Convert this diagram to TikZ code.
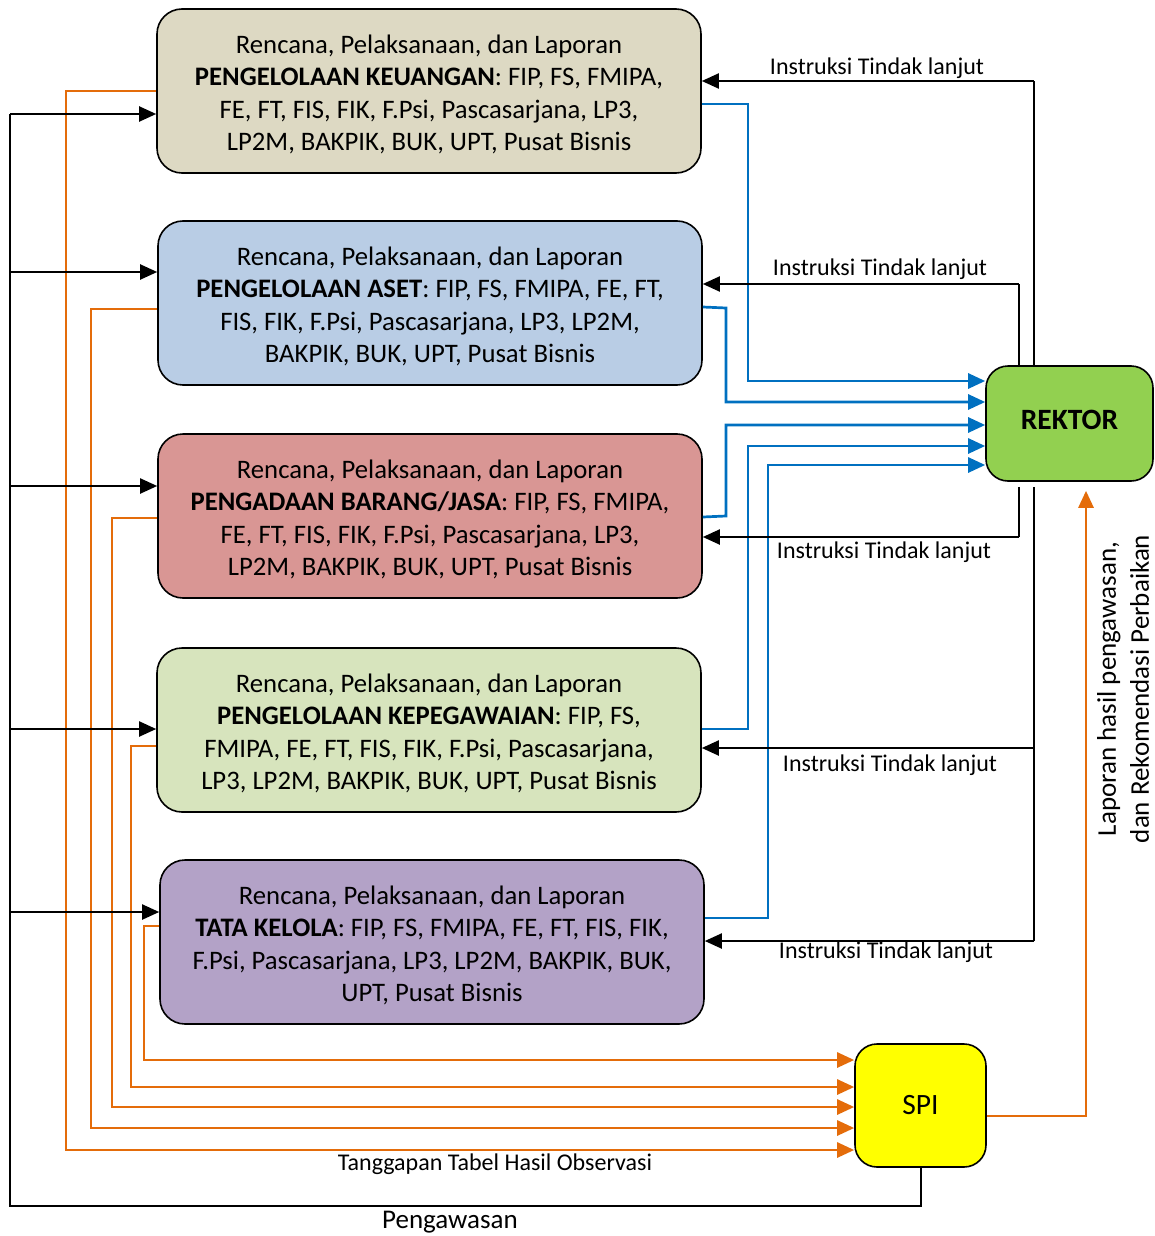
\documentclass[tikz,border=0pt]{standalone}
\usepackage{fontspec}
\setmainfont{Carlito}
\usetikzlibrary{arrows.meta}
\definecolor{ckeu}{HTML}{DDD9C3}
\definecolor{caset}{HTML}{B9CDE5}
\definecolor{cpeng}{HTML}{D99694}
\definecolor{cpeg}{HTML}{D7E4BD}
\definecolor{ctata}{HTML}{B3A2C7}
\definecolor{crek}{HTML}{92D050}
\definecolor{cspi}{HTML}{FFFF00}
\definecolor{corg}{HTML}{E46C0A}
\definecolor{cblu}{HTML}{0070C0}
\newcommand{\toppad}{\rule{0pt}{25.5pt}}
\begin{document}
\begin{tikzpicture}[x=1pt,y=-1pt,
  box/.style={draw=black, line width=1.6pt, rounded corners=25pt, minimum width=544pt, minimum height=164pt, inner sep=0pt, align=center, font=\fontsize{26.7}{32.5}\selectfont},
  tip/.style={-{Triangle[length=17pt,width=15pt]}},
  blk/.style={draw=black, line width=2pt},
  blkar/.style={blk, tip},
  thinl/.style={draw=black, line width=1.2pt},
  orl/.style={draw=corg, line width=2.7pt, tip},
  bll/.style={draw=cblu, line width=2.7pt, tip},
  lbl/.style={font=\fontsize{24}{28}\selectfont, inner sep=0pt}
]
\useasboundingbox (0,0) rectangle (1155,1236);

\node[box, fill=ckeu] (k) at (429,91) {\toppad Rencana, Pelaksanaan, dan Laporan\\\textbf{PENGELOLAAN KEUANGAN}: FIP, FS, FMIPA,\\FE, FT, FIS, FIK, F.Psi, Pascasarjana, LP3,\\LP2M, BAKPIK, BUK, UPT, Pusat Bisnis};
\node[box, fill=caset] (a) at (430,303) {\toppad Rencana, Pelaksanaan, dan Laporan\\\textbf{PENGELOLAAN ASET}: FIP, FS, FMIPA, FE, FT,\\FIS, FIK, F.Psi, Pascasarjana, LP3, LP2M,\\BAKPIK, BUK, UPT, Pusat Bisnis};
\node[box, fill=cpeng] (p) at (430,516) {\toppad Rencana, Pelaksanaan, dan Laporan\\\textbf{PENGADAAN BARANG/JASA}: FIP, FS, FMIPA,\\FE, FT, FIS, FIK, F.Psi, Pascasarjana, LP3,\\LP2M, BAKPIK, BUK, UPT, Pusat Bisnis};
\node[box, fill=cpeg] (g) at (429,730) {\toppad Rencana, Pelaksanaan, dan Laporan\\\textbf{PENGELOLAAN KEPEGAWAIAN}: FIP, FS,\\FMIPA, FE, FT, FIS, FIK, F.Psi, Pascasarjana,\\LP3, LP2M, BAKPIK, BUK, UPT, Pusat Bisnis};
\node[box, fill=ctata] (t) at (432,942) {\toppad Rencana, Pelaksanaan, dan Laporan\\\textbf{TATA KELOLA}: FIP, FS, FMIPA, FE, FT, FIS, FIK,\\F.Psi, Pascasarjana, LP3, LP2M, BAKPIK, BUK,\\UPT, Pusat Bisnis};

\node[draw=black, line width=1.6pt, rounded corners=22pt, fill=crek, minimum width=167pt, minimum height=115pt, inner sep=0pt, font=\fontsize{29.5}{32}\selectfont\bfseries] (r) at (1069.5,423.5) {\raisebox{7pt}{REKTOR}};
\node[draw=black, line width=1.6pt, rounded corners=22pt, fill=cspi, minimum width=131pt, minimum height=123pt, inner sep=0pt, font=\fontsize{29.5}{32}\selectfont] (s) at (920.5,1105.5) {SPI};

% blue: boxes -> rektor
\draw[bll] (k.east |- 0,104) -| (748,381) -- (r.west |- 0,381);
\draw[bll] (a.east |- 0,307) -- (726,308) -- (726,402) -- (r.west |- 0,402);
\draw[bll] (p.east |- 0,517) -- (726,516) -- (726,425) -- (r.west |- 0,425);
\draw[bll] (g.east |- 0,729) -| (748,446) -- (r.west |- 0,446);
\draw[bll] (t.east |- 0,918) -| (768,465) -- (r.west |- 0,465);

% black: rektor -> boxes (instruksi)
\draw[thinl] (r.north -| 1034,0) -- (1034,81);
\draw[blkar] (1034,81) -- (k.east |- 0,81);
\draw[thinl] (r.north -| 1019,0) -- (1019,284);
\draw[blkar] (1019,284) -- (a.east |- 0,284);
\draw[thinl] ([yshift=-5pt]r.south -| 1019,0) -- (1019,537);
\draw[blkar] (1019,537) -- (p.east |- 0,537);
\draw[thinl] ([yshift=-5pt]r.south -| 1034,0) -- (1034,941);
\draw[blkar] (1034,748) -- (g.east |- 0,748);
\draw[blkar] (1034,941) -- (t.east |- 0,941);

\node[lbl] (i1) at (877,68) {Instruksi Tindak lanjut};
\node[lbl] (i2) at (880,269) {Instruksi Tindak lanjut};
\node[lbl] (i3) at (884,552) {Instruksi Tindak lanjut};
\node[lbl] (i4) at (890,765) {Instruksi Tindak lanjut};
\node[lbl] (i5) at (886,952) {Instruksi Tindak lanjut};

% orange: boxes -> SPI
\draw[orl] (k.west |- 0,91) -| (66,1150) -- (s.west |- 0,1150);
\draw[orl] (a.west |- 0,309) -| (91,1128) -- (s.west |- 0,1128);
\draw[orl] (p.west |- 0,518) -| (112,1107) -- (s.west |- 0,1107);
\draw[orl] (g.west |- 0,746) -| (131,1087) -- (s.west |- 0,1087);
\draw[orl] (t.west |- 0,926) -| (144,1060) -- (s.west |- 0,1060);
\node[lbl] (tg) at (495,1164) {Tanggapan Tabel Hasil Observasi};

% orange: SPI -> rektor
\draw[orl] (s.east |- 0,1116) -| ([yshift=-9pt]r.south -| 1086,0);
\node[lbl, rotate=90, align=center, font=\fontsize{27}{33}\selectfont] (lp) at (1123,689) {Laporan hasil pengawasan,\\dan Rekomendasi Perbaikan};

% black: SPI -> boxes (pengawasan)
\draw[blk] (s.south) |- (10,1206) -- (10,114);
\draw[blkar] (10,114) -- (k.west |- 0,114);
\draw[blkar] (10,272) -- (a.west |- 0,272);
\draw[blkar] (10,486) -- (p.west |- 0,486);
\draw[blkar] (10,729) -- (g.west |- 0,729);
\draw[blkar] (10,912) -- (t.west |- 0,912);
\node[lbl, font=\fontsize{27}{30}\selectfont] (pw) at (450,1222) {Pengawasan};
\end{tikzpicture}
\end{document}
